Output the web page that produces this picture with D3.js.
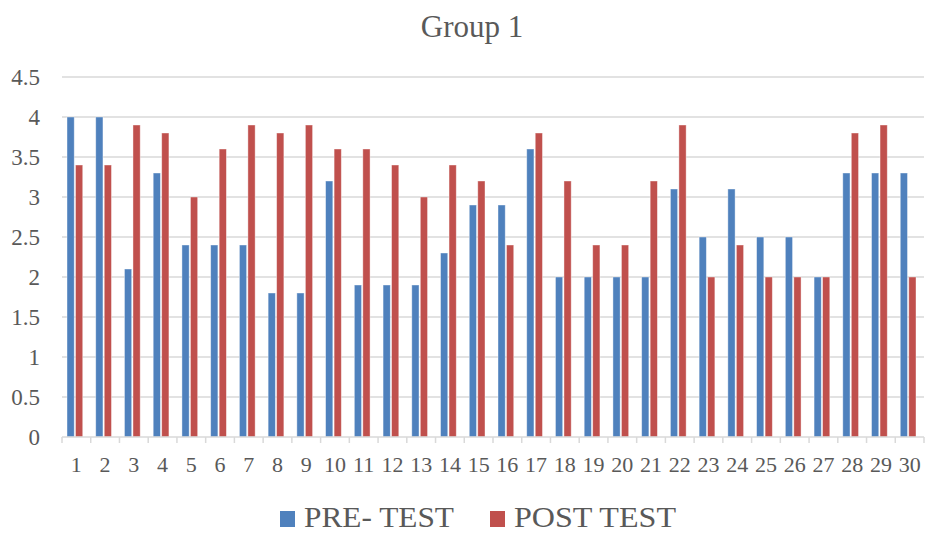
<!DOCTYPE html>
<html>
<head>
<meta charset="utf-8">
<script src="https://cdn.jsdelivr.net/npm/d3@7"></script>
<style>
  body { margin: 0; background: #fff; }
</style>
</head>
<body>
<svg width="926" height="533"></svg>
<script>
var students = d3.range(1, 31).map(String);
var preTest = [4, 4, 2.1, 3.3, 2.4, 2.4, 2.4, 1.8, 1.8, 3.2, 1.9, 1.9, 1.9, 2.3, 2.9,
               2.9, 3.6, 2, 2, 2, 2, 3.1, 2.5, 3.1, 2.5, 2.5, 2, 3.3, 3.3, 3.3];
var postTest = [3.4, 3.4, 3.9, 3.8, 3, 3.6, 3.9, 3.8, 3.9, 3.6, 3.6, 3.4, 3, 3.4, 3.2,
                2.4, 3.8, 3.2, 2.4, 2.4, 3.2, 3.9, 2, 2.4, 2, 2, 2, 3.8, 3.9, 2];
var seriesNames = ["PRE- TEST", "POST TEST"];
var seriesColors = ["#4F81BD", "#C0504D"];
var yTicks = [0, 0.5, 1, 1.5, 2, 2.5, 3, 3.5, 4, 4.5];

var svg = d3.select("svg")
    .attr("font-family", "'Liberation Serif', 'Times New Roman', 'DejaVu Serif', serif");
var margin = {left: 62, right: 2, top: 77, bottom: 96};
var width = 926, height = 533;
var textColor = "#595959";

var x = d3.scaleBand()
    .domain(students)
    .range([margin.left, width - margin.right]);

var y = d3.scaleLinear()
    .domain([0, 4.5])
    .range([height - margin.bottom, margin.top]);

var inner = d3.scaleBand()
    .domain([0, 1])
    .range([5, x.bandwidth() - 8])
    .paddingInner(0.15);

// title
svg.append("text")
    .attr("x", 472)
    .attr("y", 37)
    .attr("text-anchor", "middle")
    .attr("fill", textColor)
    .style("font-size", "31px")
    .text("Group 1");

// gridlines
svg.append("g")
  .selectAll("line")
  .data(yTicks.slice(1))
  .enter().append("line")
    .attr("x1", margin.left)
    .attr("x2", width - margin.right)
    .attr("y1", function(d) { return y(d); })
    .attr("y2", function(d) { return y(d); })
    .attr("stroke", "#d9d9d9")
    .attr("stroke-width", 1.5);

// y labels
svg.append("g")
  .selectAll("text")
  .data(yTicks)
  .enter().append("text")
    .attr("x", 40)
    .attr("y", function(d) { return y(d) + 8; })
    .attr("text-anchor", "end")
    .attr("fill", textColor)
    .style("font-size", "23px")
    .text(function(d) { return d; });

// bars
var groups = svg.append("g")
  .selectAll("g")
  .data(students)
  .enter().append("g")
    .attr("transform", function(d) { return "translate(" + x(d) + ",0)"; });

groups.selectAll("rect")
  .data(function(d, i) { return [preTest[i], postTest[i]]; })
  .enter().append("rect")
    .attr("x", function(d, j) { return inner(j); })
    .attr("width", inner.bandwidth())
    .attr("y", function(d) { return y(d); })
    .attr("height", function(d) { return y(0) - y(d); })
    .attr("fill", function(d, j) { return seriesColors[j]; })
    .attr("stroke", "#ffffff")
    .attr("stroke-opacity", 0.5)
    .attr("stroke-width", 0.8);

// x axis
var xAxis = svg.append("g")
    .attr("transform", "translate(0," + y(0) + ")");
xAxis.append("line")
    .attr("x1", margin.left)
    .attr("x2", width - margin.right)
    .attr("stroke", "#d9d9d9")
    .attr("stroke-width", 1.5);
xAxis.selectAll("line.tick")
  .data(students.concat(["end"]))
  .enter().append("line")
    .attr("class", "tick")
    .attr("x1", function(d) { return d === "end" ? width - margin.right : x(d); })
    .attr("x2", function(d) { return d === "end" ? width - margin.right : x(d); })
    .attr("y1", 0)
    .attr("y2", 6)
    .attr("stroke", "#d9d9d9")
    .attr("stroke-width", 1.5);
xAxis.selectAll("text")
  .data(students)
  .enter().append("text")
    .attr("x", function(d) { return x(d) + x.bandwidth() / 2; })
    .attr("y", 35)
    .attr("text-anchor", "middle")
    .attr("fill", textColor)
    .style("font-size", "22px")
    .text(function(d) { return d; });

// legend
var legendX = [280, 490];
var legendTextLen = [150, 162];
var legend = svg.append("g")
  .selectAll("g")
  .data(seriesNames)
  .enter().append("g")
    .attr("transform", function(d, i) { return "translate(" + legendX[i] + ",508)"; });
legend.append("rect")
    .attr("width", 15)
    .attr("height", 16)
    .attr("y", 3)
    .attr("fill", function(d, i) { return seriesColors[i]; });
legend.append("text")
    .attr("x", 24)
    .attr("y", 19)
    .attr("fill", textColor)
    .attr("textLength", function(d, i) { return legendTextLen[i]; })
    .attr("lengthAdjust", "spacingAndGlyphs")
    .style("font-size", "29px")
    .text(function(d) { return d; });
</script>
</body>
</html>
